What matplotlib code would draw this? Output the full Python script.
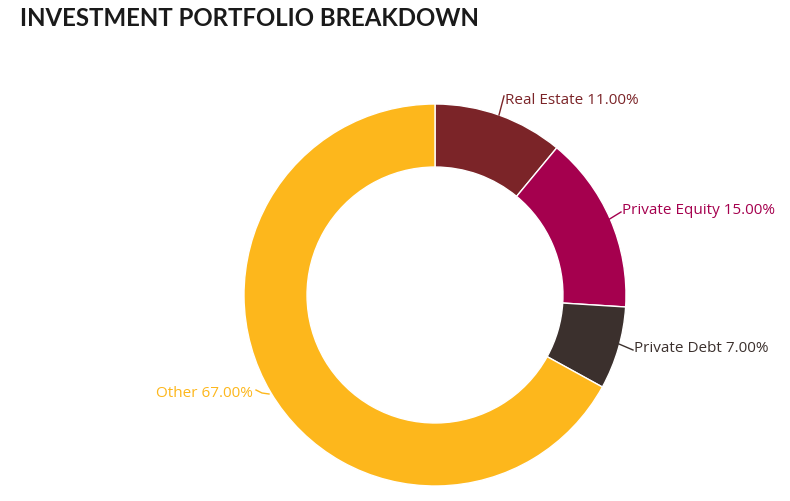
import matplotlib.pyplot as plt
import numpy as np

# data
labels = ["Real Estate", "Private Equity", "Private Debt", "Other"]
values = [11.0, 15.0, 7.0, 67.0]
colors = ["#7b2428", "#a5004e", "#3b302d", "#fdb71c"]

W, H = 790, 502
fig = plt.figure(figsize=(W / 100, H / 100), dpi=100)
ax = fig.add_axes([0, 0, 1, 1])

cx, cy, r = 435, H - 296, 191
wedges, _ = ax.pie(values, colors=colors, startangle=90, counterclock=False,
                   radius=r, center=(cx, cy), frame=True,
                   wedgeprops=dict(width=r * 0.33, edgecolor="white", linewidth=1))
ax.set_xlim(0, W)
ax.set_ylim(0, H)
ax.set_aspect("equal")
ax.axis("off")

# label positions (text anchor) and leader lines, in pixel coords from top
label_pos = [(505, 100, "left"), (622, 211, "left"), (634, 349, "left"), (253, 394, "right")]
leaders = [[(499, 116), (504, 97)],
           [(608, 221), (621, 213)],
           [(619, 345), (633, 351)],
           [(269, 395), (262, 394), (256, 391)]]

for lab, val, col, (tx, ty, ha), pts in zip(labels, values, colors, label_pos, leaders):
    xs = [p[0] for p in pts]
    ys = [H - p[1] for p in pts]
    ax.plot(xs, ys, color=col, lw=1)
    ax.text(tx, H - ty, f"{lab} {val:.2f}%", color=col, ha=ha, va="center",
            fontsize=11, family="Open Sans")

fig.text(20 / W, 1 - 18 / H, "INVESTMENT PORTFOLIO BREAKDOWN", ha="left", va="center",
         fontsize=17.3, fontweight="bold", family="Lato", color="#1a1a1a")

fig.savefig("out.png", dpi=100)
